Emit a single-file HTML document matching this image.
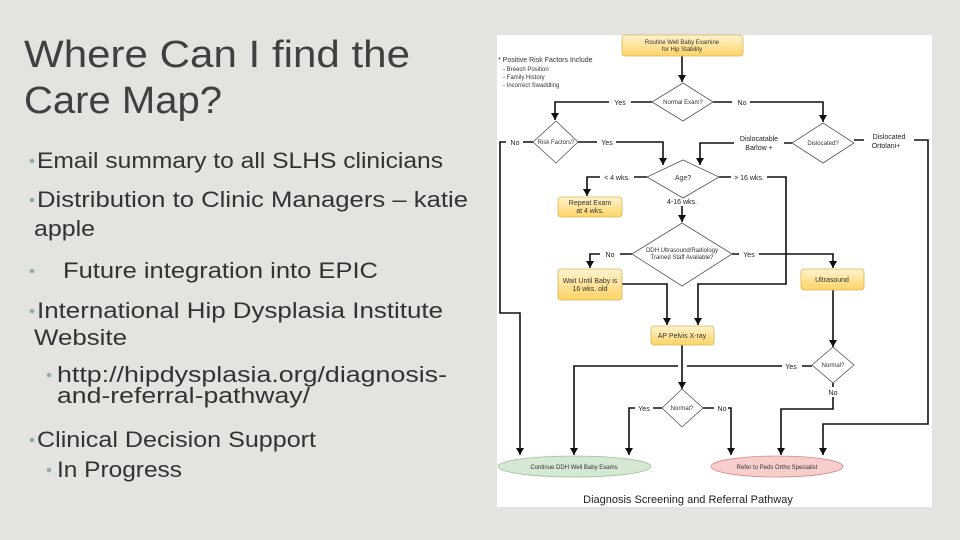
<!DOCTYPE html>
<html><head><meta charset="utf-8"><style>
html,body{margin:0;padding:0;background:#e3e3df;}
svg{display:block}
</style></head><body>
<svg width="960" height="540" viewBox="0 0 960 540" xmlns="http://www.w3.org/2000/svg" font-family="Liberation Sans, sans-serif">
<defs>
<linearGradient id="yg" x1="0" y1="0" x2="0" y2="1"><stop offset="0" stop-color="#fff3cf"/><stop offset="1" stop-color="#ffd466"/></linearGradient>
<marker id="ar" markerWidth="8" markerHeight="8" refX="7" refY="4" orient="auto" markerUnits="userSpaceOnUse" viewBox="0 0 8 8"><path d="M0,0 L7,4 L0,8 z" fill="#111"/></marker>
</defs>
<rect width="960" height="540" fill="#e3e3df"/>
<g fill="#404040">
<text x="24" y="67" font-size="38" textLength="386" lengthAdjust="spacingAndGlyphs">Where Can I find the</text>
<text x="24" y="113" font-size="38" textLength="198" lengthAdjust="spacingAndGlyphs">Care Map?</text>
<g font-size="22" fill="#333">
<text x="37" y="168" textLength="406" lengthAdjust="spacingAndGlyphs">Email summary to all SLHS clinicians</text>
<text x="37" y="207" textLength="431" lengthAdjust="spacingAndGlyphs">Distribution to Clinic Managers – katie</text>
<text x="34" y="236" textLength="61" lengthAdjust="spacingAndGlyphs">apple</text>
<text x="63" y="278" textLength="315" lengthAdjust="spacingAndGlyphs">Future integration into EPIC</text>
<text x="37" y="318" textLength="406" lengthAdjust="spacingAndGlyphs">International Hip Dysplasia Institute</text>
<text x="34" y="345" textLength="93" lengthAdjust="spacingAndGlyphs">Website</text>
<text x="57" y="382" textLength="390" lengthAdjust="spacingAndGlyphs">http://hipdysplasia.org/diagnosis-</text>
<text x="57" y="403" textLength="253" lengthAdjust="spacingAndGlyphs">and-referral-pathway/</text>
<text x="37" y="447" textLength="279" lengthAdjust="spacingAndGlyphs">Clinical Decision Support</text>
<text x="57" y="477" textLength="125" lengthAdjust="spacingAndGlyphs">In Progress</text>
</g></g>
<g fill="#8fb0ae">
<circle cx="32" cy="161" r="2.3"/><circle cx="32" cy="200" r="2.3"/><circle cx="32" cy="271" r="2.3"/><circle cx="32" cy="311" r="2.3"/><circle cx="49" cy="375" r="2.3"/><circle cx="32" cy="440" r="2.3"/><circle cx="49" cy="470" r="2.3"/>
</g>
<rect x="497" y="35" width="435" height="472" fill="#fff"/>
<g font-size="6.5" fill="#333">
<text x="498" y="62" font-size="7">* Positive Risk Factors Include</text>
<text x="503" y="71" font-size="6">- Breech Position</text>
<text x="503" y="79" font-size="6">- Family History</text>
<text x="503" y="87" font-size="6">- Incorrect Swaddling</text>
</g>
<g fill="none" stroke="#111" stroke-width="1.6">
<path d="M682,56 V82" marker-end="url(#ar)"/>
<path d="M652,102 H555 V120" marker-end="url(#ar)"/>
<path d="M713,102 H823 V122" marker-end="url(#ar)"/>
<path d="M533,142 H500 V313 H520 V455" marker-end="url(#ar)"/>
<path d="M578,142 H663 V165" marker-end="url(#ar)"/>
<path d="M792,143 H700 V165" marker-end="url(#ar)"/>
<path d="M854,140 H928 V424 H823 V455" marker-end="url(#ar)"/>
<path d="M647,177 H587 V196" marker-end="url(#ar)"/>
<path d="M719,177 H786 V284 H698 V325" marker-end="url(#ar)"/>
<path d="M682,198 V222" marker-end="url(#ar)"/>
<path d="M632,254 H590 V268" marker-end="url(#ar)"/>
<path d="M622,284 H667 V325" marker-end="url(#ar)"/>
<path d="M732,254 H833 V268" marker-end="url(#ar)"/>
<path d="M833,290 V347" marker-end="url(#ar)"/>
<path d="M682,345 V389" marker-end="url(#ar)"/>
<path d="M812,366 H687 M678,366 H574 V455" marker-end="url(#ar)"/>
<path d="M662,408 H629 V455" marker-end="url(#ar)"/>
<path d="M703,408 H731 V455" marker-end="url(#ar)"/>
<path d="M833,383 V409 H781 V455" marker-end="url(#ar)"/>
</g>
<g font-size="7" fill="#222" text-anchor="middle">
<g fill="#fff"><rect x="609" y="97" width="22" height="10"/><rect x="732" y="97" width="18" height="10"/><rect x="506" y="137" width="17" height="10"/><rect x="597" y="137" width="19" height="10"/><rect x="734" y="130" width="50" height="24"/><rect x="864" y="128" width="50" height="24"/><rect x="600" y="172" width="34" height="10"/><rect x="731" y="172" width="36" height="10"/><rect x="664" y="196" width="36" height="10"/><rect x="600" y="249" width="20" height="10"/><rect x="739" y="249" width="20" height="10"/><rect x="782" y="361" width="20" height="10"/><rect x="635" y="403" width="18" height="10"/><rect x="714" y="403" width="14" height="10"/><rect x="825" y="387" width="16" height="10"/></g>
<text x="620" y="105">Yes</text><text x="742" y="105">No</text>
<text x="515" y="145">No</text><text x="607" y="145">Yes</text>
<text x="759" y="141">Dislocatable</text><text x="759" y="150">Barlow +</text>
<text x="889" y="139">Dislocated</text><text x="886" y="148">Ortolani+</text>
<text x="617" y="180">&lt; 4 wks.</text><text x="749" y="180">&gt; 16 wks.</text>
<text x="682" y="204">4-16 wks.</text>
<text x="610" y="257">No</text><text x="749" y="257">Yes</text>
<text x="791" y="369">Yes</text><text x="644" y="411">Yes</text><text x="722" y="411">No</text><text x="833" y="395">No</text>
</g>
<g stroke="#d6b656" stroke-width="0.8" fill="url(#yg)">
<rect x="622" y="35" width="121" height="21" rx="3"/>
<rect x="558" y="197" width="64" height="20" rx="3"/>
<rect x="558" y="269" width="64" height="31" rx="3"/>
<rect x="801" y="269" width="63" height="21" rx="3"/>
<rect x="651" y="326" width="63" height="19" rx="3"/>
</g>
<g fill="#fff" stroke="#555" stroke-width="0.8">
<polygon points="683,83 713,102 683,121 652,102"/>
<polygon points="556,121 578,142 556,163 533,142"/>
<polygon points="823,123 854,143 823,163 792,143"/>
<polygon points="683,160 719,177 683,198 647,177"/>
<polygon points="682,223 732,254 682,286 632,254"/>
<polygon points="833,347 854,365 833,383 812,365"/>
<polygon points="682,389 703,408 682,427 662,408"/>
</g>
<ellipse cx="574.5" cy="466.5" rx="76.5" ry="10.5" fill="#d5e8d4" stroke="#9fc496" stroke-width="0.8"/>
<ellipse cx="777" cy="466.5" rx="66" ry="10.5" fill="#f8cecc" stroke="#d08a88" stroke-width="0.8"/>
<g font-size="6" fill="#333" text-anchor="middle">
<text x="682" y="44">Routine Well Baby Examine</text><text x="682" y="51">for Hip Stability</text>
<text x="683" y="104">Normal Exam?</text>
<text x="556" y="144">Risk Factors?</text>
<text x="823" y="145">Dislocated?</text>
<text x="683" y="180" font-size="7">Age?</text>
<text x="682" y="252">DDH Ultrasound/Radiology</text><text x="682" y="259">Trained Staff Available?</text>
<text x="833" y="367">Normal?</text>
<text x="682" y="410">Normal?</text>
<text x="574" y="469">Continue DDH Well Baby Exams</text>
<text x="777" y="469">Refer to Peds Ortho Specialist</text>
</g>
<g font-size="7" fill="#333" text-anchor="middle">
<text x="590" y="205">Repeat Exam</text><text x="590" y="213">at 4 wks.</text>
<text x="590" y="283">Wait Until Baby is</text><text x="590" y="291">16 wks. old</text>
<text x="832" y="282">Ultrasound</text>
<text x="682" y="338">AP Pelvis X-ray</text>
</g>
<text x="688" y="503" font-size="11" fill="#222" text-anchor="middle">Diagnosis Screening and Referral Pathway</text>
</svg>
</body></html>
